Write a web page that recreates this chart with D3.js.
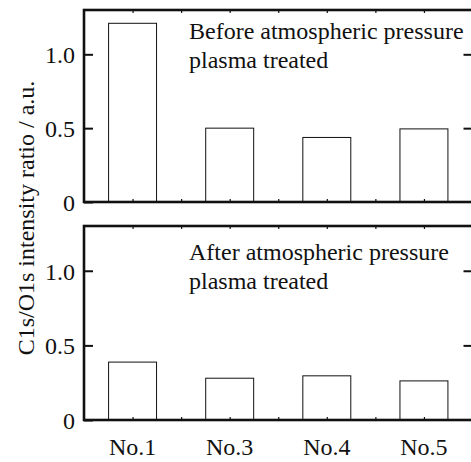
<!DOCTYPE html>
<html>
<head>
<meta charset="utf-8">
<script src="https://cdn.jsdelivr.net/npm/d3@7"></script>
<style>
  html, body { margin: 0; padding: 0; background: #fff; }
  svg { display: block; }
  text { font-family: "Liberation Serif", "Times New Roman", serif; fill: #111; }
</style>
</head>
<body>
<svg id="chart" width="471" height="462"></svg>
<script>
const categories = ["No.1", "No.3", "No.4", "No.5"];
const beforeValues = [1.21, 0.50, 0.437, 0.495];
const afterValues = [0.388, 0.28, 0.296, 0.262];
const yTicks = [0, 0.5, 1.0];
const yTickLabels = ["0", "0.5", "1.0"];
const panelTitles = [
  ["Before atmospheric pressure", "plasma treated"],
  ["After atmospheric pressure", "plasma treated"]
];
const yAxisTitle = "C1s/O1s intensity ratio / a.u.";

const svg = d3.select("#chart");
const left = 84, right = 472.5;
// x positions: 8 units; bars centered at odd units
const x = d3.scaleLinear().domain([0, 8]).range([left, right]);
const barPos = d => 1 + 2 * d; // category index -> unit position
const barW = x(1) - x(0) - 0.6;

const panels = [
  { top: 10, bottom: 202, values: beforeValues, title: panelTitles[0], titleY: 39 },
  { top: 226, bottom: 420, values: afterValues, title: panelTitles[1], titleY: 260 }
];

panels.forEach(p => {
  const y = d3.scaleLinear().domain([0, 1.3]).range([p.bottom, p.top]);
  const g = svg.append("g");

  // bars
  g.selectAll("rect.bar").data(p.values).join("rect")
    .attr("class", "bar")
    .attr("x", (d, i) => x(barPos(i)) - barW / 2)
    .attr("y", d => y(d))
    .attr("width", barW)
    .attr("height", d => y(0) - y(d))
    .attr("fill", "#fff")
    .attr("stroke", "#111")
    .attr("stroke-width", 1);

  // left axis (ticks inward)
  const yAxisL = d3.axisLeft(y).tickValues(yTicks).tickSize(-9).tickPadding(9)
    .tickFormat((d, i) => yTickLabels[i]);
  const gl = g.append("g").attr("transform", `translate(${left},0)`).call(yAxisL);
  gl.select(".domain").remove();
  gl.selectAll(".tick line").attr("stroke", "#111").attr("stroke-width", 2);
  gl.selectAll(".tick text").style("font-size", "24px")
    .style("font-family", "'Liberation Serif','Times New Roman',serif").attr("fill", "#111")
    .attr("dy", "0.35em");

  // right axis ticks (inward)
  const yAxisR = d3.axisRight(y).tickValues(yTicks.filter(v => v > 0)).tickSize(-9).tickFormat("");
  const gr = g.append("g").attr("transform", `translate(${right},0)`).call(yAxisR);
  gr.select(".domain").remove();
  gr.selectAll(".tick line").attr("stroke", "#111").attr("stroke-width", 2);

  // bottom & top small ticks
  const xt = d3.range(1, 8);
  const xAxisB = d3.axisBottom(x).tickValues(xt).tickSize(-3).tickFormat("");
  const gb = g.append("g").attr("transform", `translate(0,${p.bottom})`).call(xAxisB);
  gb.select(".domain").remove();
  gb.selectAll(".tick line").attr("stroke", "#111").attr("stroke-width", 1.2);
  const xAxisT = d3.axisTop(x).tickValues(xt).tickSize(-3).tickFormat("");
  const gt = g.append("g").attr("transform", `translate(0,${p.top})`).call(xAxisT);
  gt.select(".domain").remove();
  gt.selectAll(".tick line").attr("stroke", "#111").attr("stroke-width", 1.2);

  // frame
  g.append("rect")
    .attr("x", left).attr("y", p.top)
    .attr("width", right - left).attr("height", p.bottom - p.top)
    .attr("fill", "none").attr("stroke", "#111").attr("stroke-width", 2.6);

  // panel title
  const t = g.append("text").attr("x", 189).attr("y", p.titleY)
    .style("font-size", "24px");
  p.title.forEach((line, i) => {
    t.append("tspan").attr("x", 189).attr("dy", i === 0 ? 0 : 29).text(line);
  });
});

// x category labels
svg.append("g").selectAll("text").data(categories).join("text")
  .attr("x", (d, i) => x(barPos(i)))
  .attr("y", 455)
  .attr("text-anchor", "middle")
  .style("font-size", "24px")
  .text(d => d);

// y axis title
svg.append("text")
  .attr("transform", "translate(34,218) rotate(-90)")
  .attr("text-anchor", "middle")
  .style("font-size", "24px")
  .text(yAxisTitle);
</script>
</body>
</html>
